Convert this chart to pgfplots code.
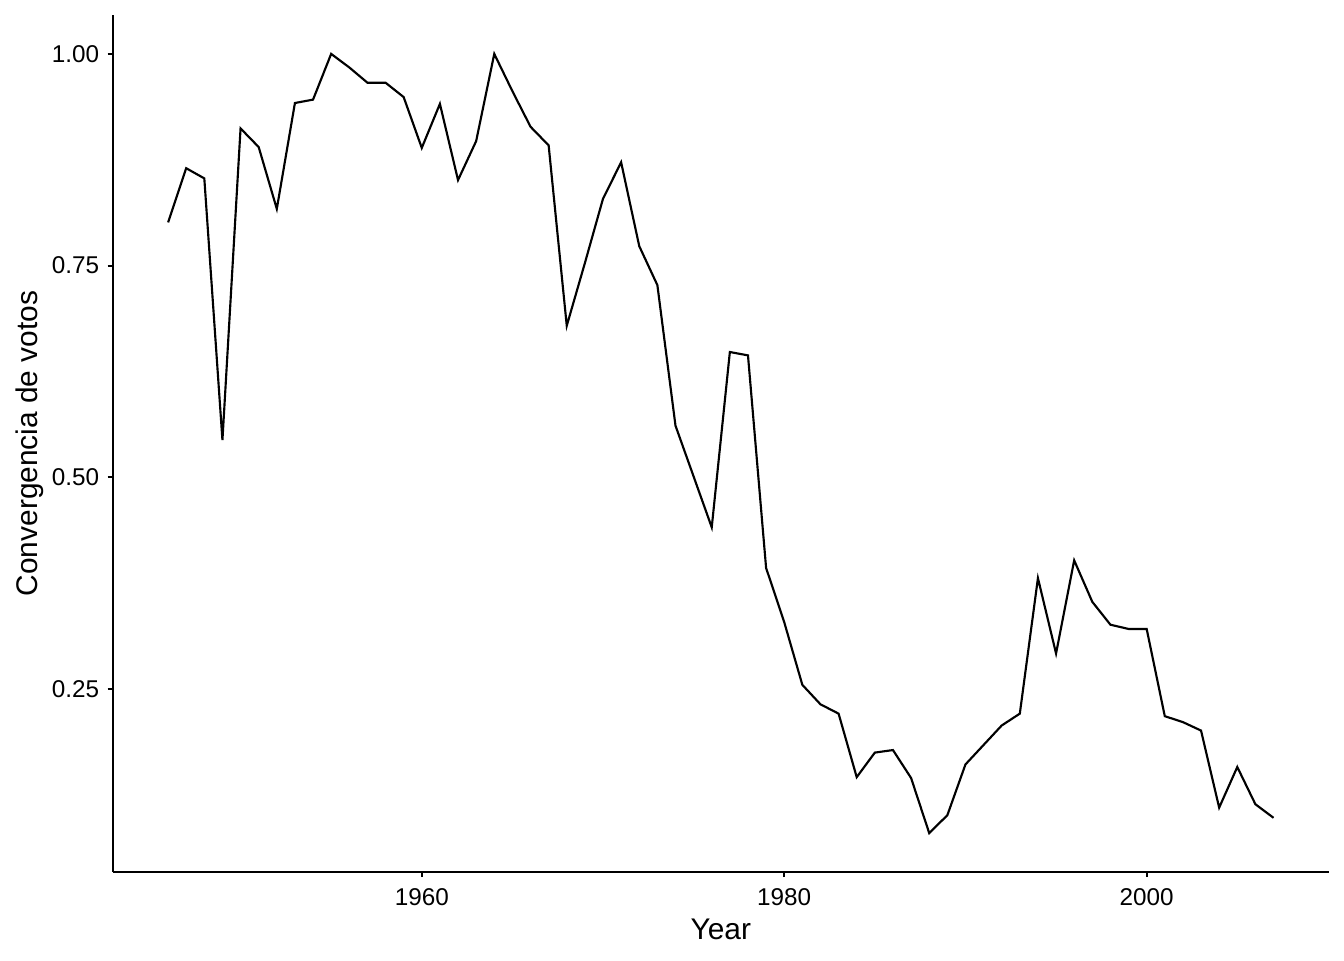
\documentclass[border=0pt]{standalone}
\usepackage{pgfplots}
\pgfplotsset{compat=1.18}
\usepackage{fontspec}
\setmainfont{Liberation Sans}
\begin{document}
\begin{tikzpicture}
\path[use as bounding box] (0,0) rectangle (504pt,360pt);
\begin{axis}[
  at={(42.3pt,33pt)}, anchor=south west,
  scale only axis, width=456pt, height=321.4pt,
  xmin=1942.95, xmax=2010.05, ymin=0.034, ymax=1.046,
  axis x line*=bottom, axis y line*=left,
  axis line style={line width=0.8pt, black},
  tick align=outside, major tick length=1.9pt,
  tick style={line width=0.75pt, black},
  xtick={1960,1980,2000}, xticklabels={1960,1980,2000},
  ytick={0.25,0.5,0.75,1}, yticklabels={0.25,0.50,0.75,1.00},
  minor tick num=0,
  /pgf/number format/assume math mode=true,
  ticklabel style={font=\fontsize{9.1}{10}\selectfont, black},
  xticklabel style={inner sep=0pt, yshift=-4.1pt},
  yticklabel style={inner sep=0pt, xshift=-3.0pt},
  every axis x label/.style={at={(axis description cs:0.5,-0.0793)}, anchor=base, font=\fontsize{11.2}{13}\selectfont},
  every axis y label/.style={at={(axis description cs:-0.0623,0.5)}, rotate=90, anchor=base, font=\fontsize{11.2}{13}\selectfont},
  xlabel={Year}, ylabel={Convergencia de votos},
  clip=false,
]
\addplot[black, line width=0.8pt, mark=none] coordinates {
(1946,0.801) (1947,0.865) (1948,0.853) (1949,0.544) (1950,0.912)
(1951,0.890) (1952,0.817) (1953,0.942) (1954,0.946) (1955,1.000)
(1956,0.984) (1957,0.966) (1958,0.966) (1959,0.949) (1960,0.889)
(1961,0.941) (1962,0.851) (1963,0.897) (1964,1.000) (1965,0.956)
(1966,0.914) (1967,0.892) (1968,0.679) (1969,0.753) (1970,0.829)
(1971,0.872) (1972,0.773) (1973,0.727) (1974,0.561) (1975,0.501)
(1976,0.441) (1977,0.648) (1978,0.644) (1979,0.393) (1980,0.329)
(1981,0.255) (1982,0.232) (1983,0.221) (1984,0.146) (1985,0.175)
(1986,0.178) (1987,0.145) (1988,0.080) (1989,0.101) (1990,0.161)
(1991,0.184) (1992,0.207) (1993,0.221) (1994,0.381) (1995,0.292)
(1996,0.402) (1997,0.353) (1998,0.326) (1999,0.321) (2000,0.321)
(2001,0.218) (2002,0.211) (2003,0.201) (2004,0.110) (2005,0.158)
(2006,0.114) (2007,0.098)
};
\end{axis}
\end{tikzpicture}
\end{document}
